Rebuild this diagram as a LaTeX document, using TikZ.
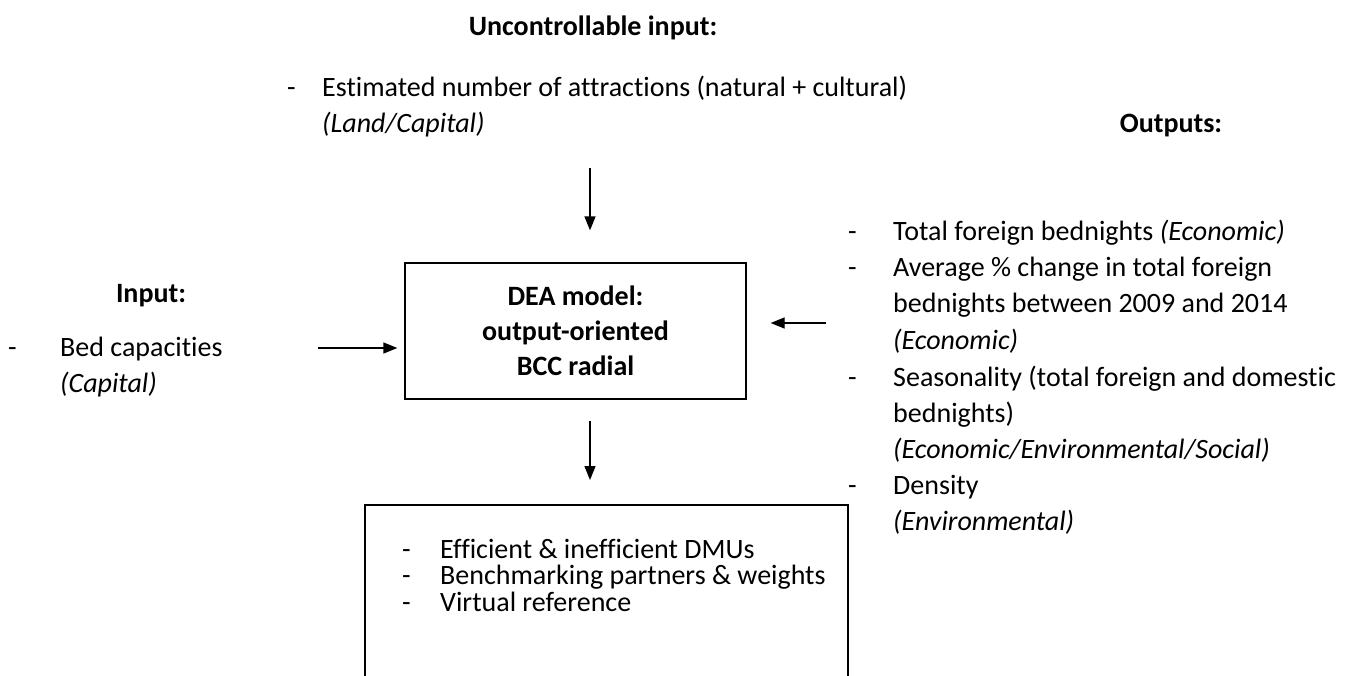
\documentclass[tikz,border=0pt]{standalone}
\usepackage{fontspec}
\setmainfont{Carlito}[Ligatures=NoCommon]
\usetikzlibrary{arrows.meta}
\begin{document}
\begin{tikzpicture}[x=1pt,y=-1pt,
  txt/.style={font=\fontsize{28}{36}\selectfont, inner sep=0pt, anchor=base west},
  hd/.style={font=\fontsize{28}{36}\selectfont\bfseries, inner sep=0pt, anchor=base},
  arr/.style={line width=1.3pt, -{Triangle[length=14pt,width=11pt]}},
  frame/.style={line width=1.3pt}]
\useasboundingbox[fill=white] (0,0) rectangle (1370,675);
% uncontrollable input
\node[hd] (hunc) at (593,35) {Uncontrollable input:};
\node[txt] (ud) at (287,96) {-};
\node[txt] (u1) at (322,96) {Estimated number of attractions (natural + cultural)};
\node[txt] (u2) at (322,132) {\itshape (Land/Capital)};
% outputs
\node[hd] (hout) at (1171,132) {Outputs:};
\node[txt] (od1) at (848,240) {-};
\node[txt] (o1) at (893,240) {Total foreign bednights \textit{(Economic)}};
\node[txt] (od2) at (848,276) {-};
\node[txt] (o2) at (893,276) {Average \% change in total foreign};
\node[txt] (o3) at (893,312) {bednights between 2009 and 2014};
\node[txt] (o4) at (893,349) {\itshape (Economic)};
\node[txt] (od3) at (848,386) {-};
\node[txt] (o5) at (893,386) {Seasonality (total foreign and domestic};
\node[txt] (o6) at (893,422) {bednights)};
\node[txt] (o7) at (893,458) {\itshape (Economic/Environmental/Social)};
\node[txt] (od4) at (848,494) {-};
\node[txt] (o8) at (893,494) {Density};
\node[txt] (o9) at (893,530) {\itshape (Environmental)};
% input
\node[hd] (hin) at (151,302) {Input:};
\node[txt] (id) at (8,356) {-};
\node[txt] (i1) at (60,356) {Bed capacities};
\node[txt] (i2) at (60,392) {\itshape (Capital)};
% DEA box
\node[draw, line width=1.3pt, minimum width=341pt, minimum height=136pt, inner sep=0pt,
      align=center, font=\fontsize{28}{35}\selectfont\bfseries] (dea) at (575.5,331)
      {DEA model:\\output-oriented\\BCC radial};
% results box (open at the bottom edge of the picture)
\draw[frame] (365,680) -- (365,505) -- (848,505) -- (848,680);
\coordinate (rtop) at (606.5,505);
\node[txt] (rd1) at (402,558) {-};
\node[txt] (r1) at (440,558) {Efficient \& inefficient DMUs};
\node[txt] (rd2) at (402,584) {-};
\node[txt] (r2) at (440,584) {Benchmarking partners \& weights};
\node[txt] (rd3) at (402,611) {-};
\node[txt] (r3) at (440,611) {Virtual reference};
% arrows
\coordinate (ax) at (590,0);
\coordinate (tA) at (590,168);
\draw[arr, shorten >=32pt] (tA) -- (tA |- dea.north);
\draw[arr, shorten <=21pt, shorten >=25pt] (dea.south -| ax) -- (rtop -| ax);
\coordinate (lA) at (318,348);
\draw[arr, shorten >=7pt] (lA) -- (lA -| dea.west);
\coordinate (rA) at (826,323);
\draw[arr, shorten >=24pt] (rA) -- (rA -| dea.east);
\end{tikzpicture}
\end{document}
